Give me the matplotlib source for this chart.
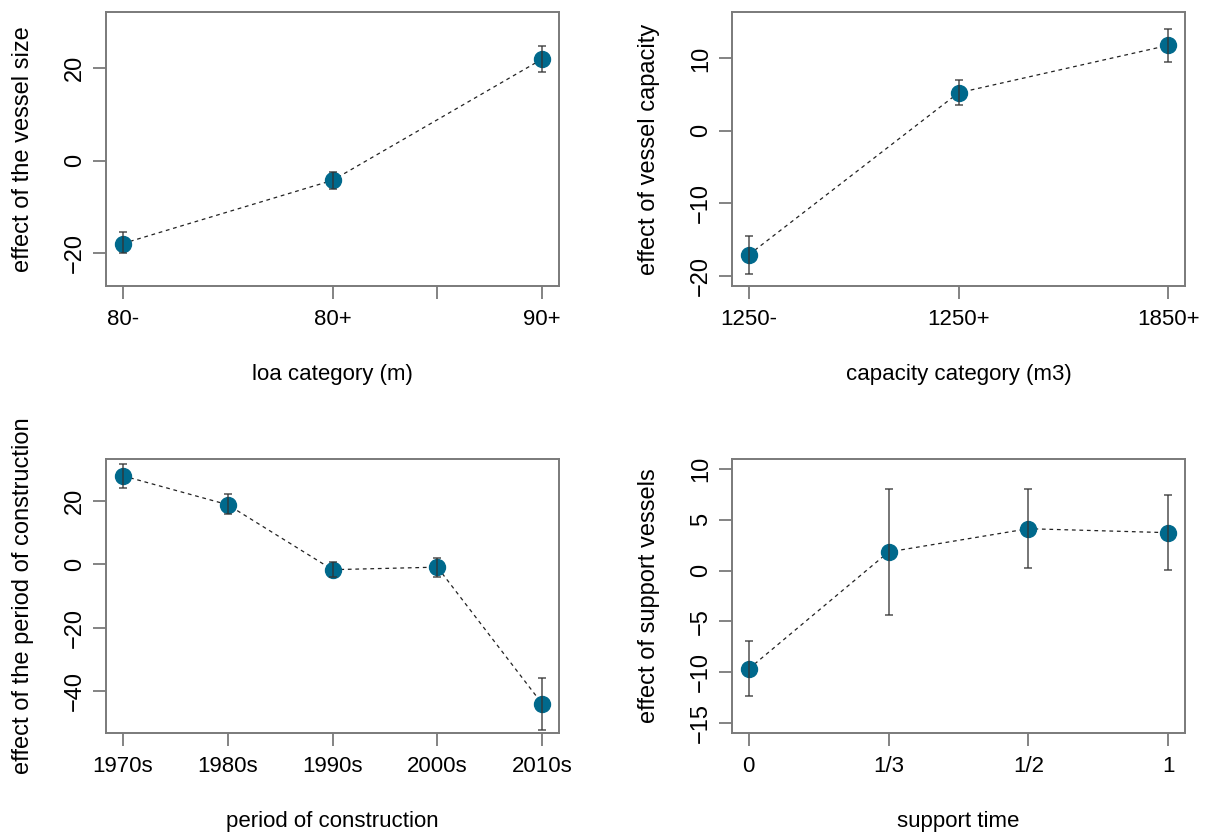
import matplotlib
matplotlib.use("Agg")
import matplotlib.pyplot as plt

plt.rcParams['font.family'] = ['Liberation Sans', 'DejaVu Sans']

# panel 1: vessel size
loa_labels = ['80-', '80+', '90+']
loa_est = [-18.0, -4.3, 22.0]
loa_lo = [-20.1, -6.1, 19.3]
loa_hi = [-15.6, -2.4, 24.8]

# panel 2: vessel capacity
cap_labels = ['1250-', '1250+', '1850+']
cap_est = [-17.1, 5.25, 11.8]
cap_lo = [-19.7, 3.55, 9.5]
cap_hi = [-14.5, 7.0, 14.05]

# panel 3: period of construction
per_labels = ['1970s', '1980s', '1990s', '2000s', '2010s']
per_est = [27.9, 18.8, -1.7, -0.9, -44.0]
per_lo = [24.2, 15.7, -4.1, -3.9, -52.1]
per_hi = [31.6, 22.2, 0.7, 2.0, -35.7]

# panel 4: support vessels
sup_labels = ['0', '1/3', '1/2', '1']
sup_est = [-9.68, 1.84, 4.13, 3.74]
sup_lo = [-12.4, -4.4, 0.3, 0.03]
sup_hi = [-6.96, 8.07, 8.0, 7.41]

GREY = '#7a7a7a'
PT = '#00698c'


def rlim(lo, hi):
    # R style 4% padding
    d = (hi - lo) * 0.04
    return lo - d, hi + d


def panel(rect, labels, est, lo, hi, ylim, yticks, xlab, ylab, extra_ticks=None):
    ax = fig.add_axes(rect)
    x = list(range(1, len(labels) + 1))
    ax.plot(x, est, color='#222222', lw=0.9, ls=(0, (3, 3)), zorder=1)
    ax.plot(x, est, 'o', color=PT, ms=11.5, mec=PT, zorder=2)
    yerr = [[e - l for e, l in zip(est, lo)], [h - e for e, h in zip(est, hi)]]
    ax.errorbar(x, est, yerr=yerr, fmt='none', ecolor='#333333', elinewidth=1.1,
                capsize=3, capthick=1.1, zorder=3, alpha=0.85)
    ax.set_xlim(rlim(1, len(labels)))
    ax.set_ylim(rlim(*ylim))
    ax.set_xticks(x)
    ax.set_xticklabels(labels)
    if extra_ticks:
        ax.set_xticks(extra_ticks, minor=True)
    ax.set_yticks(yticks)
    for s in ax.spines.values():
        s.set_color(GREY)
        s.set_linewidth(1.4)
    ax.tick_params(which='both', direction='out', length=9.5, width=1.3, color=GREY,
                   labelcolor='black')
    ax.tick_params(axis='x', pad=7, labelsize=16)
    ax.tick_params(axis='y', pad=5, labelsize=17)
    for t in ax.get_yticklabels():
        t.set_rotation(90)
        t.set_va('center')
    ax.set_xlabel(xlab, fontsize=16)
    ax.set_ylabel(ylab, fontsize=17)
    ax.xaxis.set_label_coords(0.5, -88 / 274)
    ax.xaxis.label.set_va('center')
    ax.yaxis.set_label_coords(-83 / 453, 0.5)
    ax.yaxis.label.set_va('center')
    return ax


fig = plt.figure(figsize=(12.26, 8.33), dpi=100)

w = 453 / 1226
h = 274 / 833
panel([106 / 1226, 1 - 286 / 833, w, h], loa_labels, loa_est, loa_lo, loa_hi,
      (-25, 30), [-20, 0, 20], 'loa category (m)', 'effect of the vessel size',
      extra_ticks=[2.5])
panel([732 / 1226, 1 - 286 / 833, w, h], cap_labels, cap_est, cap_lo, cap_hi,
      (-20, 15), [-20, -10, 0, 10], 'capacity category (m3)', 'effect of vessel capacity')
panel([106 / 1226, 1 - 733 / 833, w, h], per_labels, per_est, per_lo, per_hi,
      (-50, 30), [-40, -20, 0, 20], 'period of construction',
      'effect of the period of construction')
panel([732 / 1226, 1 - 733 / 833, w, h], sup_labels, sup_est, sup_lo, sup_hi,
      (-15, 10), [-15, -10, -5, 0, 5, 10], 'support time', 'effect of support vessels')

fig.savefig('out.png', dpi=100)
